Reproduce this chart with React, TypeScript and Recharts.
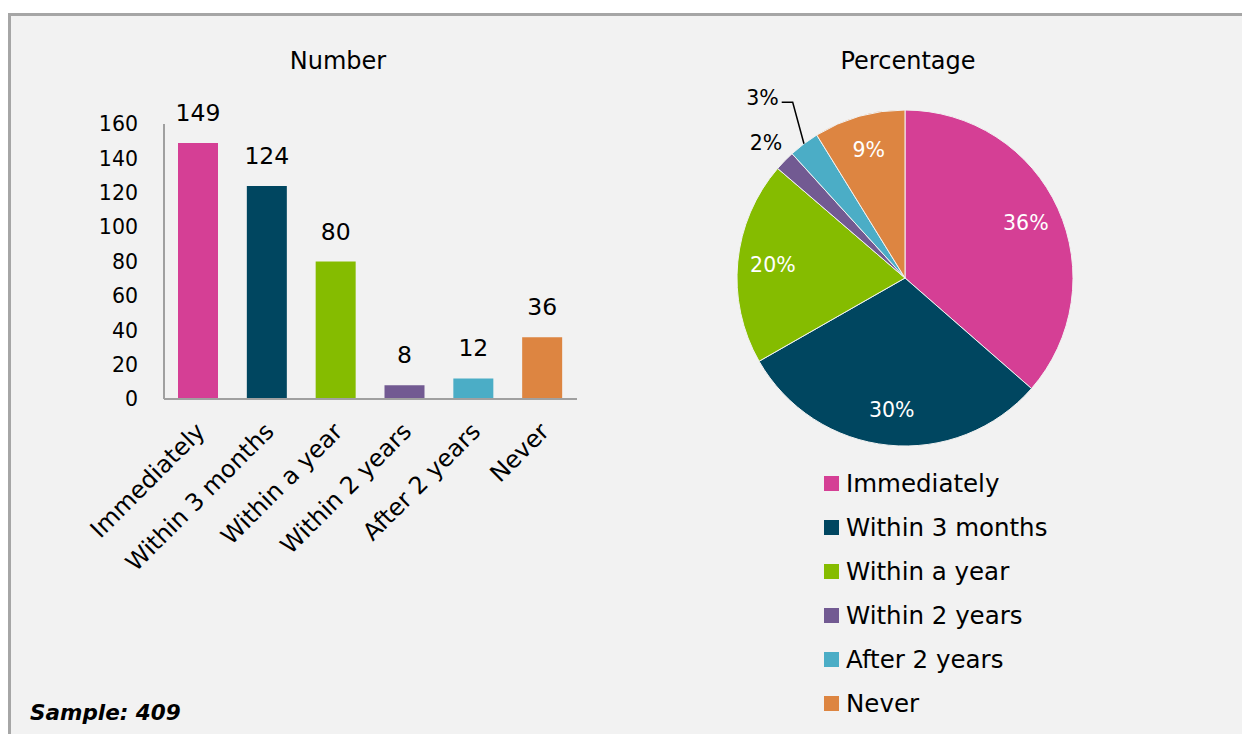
import React from "react";
import {
  BarChart,
  Bar,
  XAxis,
  YAxis,
  Cell,
  LabelList,
  PieChart,
  Pie,
  Legend,
} from "recharts";

const CATEGORIES = [
  "Immediately",
  "Within 3 months",
  "Within a year",
  "Within 2 years",
  "After 2 years",
  "Never",
];
const COUNTS = [149, 124, 80, 8, 12, 36];
const COLORS = ["#d53f95", "#004660", "#85bc00", "#725a92", "#4badc6", "#dd8541"];
const Y_TICKS = [0, 20, 40, 60, 80, 100, 120, 140, 160];
const SAMPLE_SIZE = 409;

const FONT = "'DejaVu Sans', Verdana, sans-serif";
const RADIAN = Math.PI / 180;

const data = CATEGORIES.map((name, i) => ({ name, count: COUNTS[i], color: COLORS[i] }));

function RotatedTick(props: any) {
  const { x, y, payload } = props;
  return (
    <g transform={`translate(${x + 8},${y + 26})`}>
      <text
        transform="rotate(-45)"
        textAnchor="end"
        fontSize={24}
        fontFamily={FONT}
        fill="#000"
      >
        {payload.value}
      </text>
    </g>
  );
}

function PieLabel(props: any) {
  const { cx, cy, midAngle, outerRadius, percent } = props;
  const pct = `${Math.round(percent * 100)}%`;
  const cos = Math.cos(-midAngle * RADIAN);
  const sin = Math.sin(-midAngle * RADIAN);

  if (percent >= 0.05) {
    const r = outerRadius * 0.79;
    return (
      <text
        x={cx + r * cos}
        y={cy + r * sin}
        fill="#fff"
        fontSize={20.5}
        fontFamily={FONT}
        textAnchor="middle"
        dominantBaseline="central"
      >
        {pct}
      </text>
    );
  }

  if (percent < 0.025) {
    const r = outerRadius + 26;
    return (
      <text
        x={cx + r * cos}
        y={cy + r * sin}
        fill="#000"
        fontSize={20.5}
        fontFamily={FONT}
        textAnchor="middle"
        dominantBaseline="central"
      >
        {pct}
      </text>
    );
  }

  // small slice with a leader line
  const sx = cx + outerRadius * cos;
  const sy = cy + outerRadius * sin;
  const ex = cx + (outerRadius + 52) * cos + 20;
  const ey = cy + (outerRadius + 52) * sin;
  return (
    <g>
      <polyline
        points={`${sx},${sy} ${ex},${ey} ${ex - 11},${ey}`}
        fill="none"
        stroke="#000"
        strokeWidth={1.5}
      />
      <text
        x={ex - 14}
        y={ey - 4}
        fill="#000"
        fontSize={20.5}
        fontFamily={FONT}
        textAnchor="end"
        dominantBaseline="central"
      >
        {pct}
      </text>
    </g>
  );
}

function LegendList() {
  return (
    <div style={{ fontFamily: FONT, fontSize: 24.5, color: "#000" }}>
      {CATEGORIES.map((c, i) => (
        <div key={c} style={{ display: "flex", alignItems: "center", height: 44 }}>
          <span
            style={{
              width: 15,
              height: 15,
              backgroundColor: COLORS[i],
              marginRight: 7,
              flexShrink: 0,
            }}
          />
          <span>{c}</span>
        </div>
      ))}
    </div>
  );
}

export default function App() {
  return (
    <div
      style={{
        position: "absolute",
        left: 0,
        top: 0,
        width: 1242,
        height: 734,
        background: "#fff",
        overflow: "hidden",
      }}
    >
      <div
        style={{
          position: "absolute",
          left: 8,
          top: 13,
          width: 1260,
          height: 760,
          background: "#f2f2f2",
          borderTop: "3px solid #a6a6a6",
          borderLeft: "3px solid #a6a6a6",
        }}
      />

      <div
        style={{
          position: "absolute",
          left: 238,
          top: 47,
          width: 200,
          textAlign: "center",
          fontFamily: FONT,
          fontSize: 24,
          color: "#000",
        }}
      >
        Number
      </div>

      <div style={{ position: "absolute", left: 0, top: 0 }}>
        <BarChart
          width={620}
          height={734}
          data={data}
          margin={{ top: 124, right: 43, left: 104, bottom: 185 }}
        >
          <YAxis
            width={60}
            domain={[0, 160]}
            ticks={Y_TICKS}
            interval={0}
            axisLine={{ stroke: "#a0a0a0", strokeWidth: 2 }}
            tickLine={false}
            tick={{ fontSize: 20.5, fontFamily: FONT, fill: "#000" }}
            tickMargin={20}
          />
          <XAxis
            dataKey="name"
            height={150}
            interval={0}
            axisLine={{ stroke: "#a0a0a0", strokeWidth: 2 }}
            tickLine={false}
            tick={<RotatedTick />}
          />
          <Bar dataKey="count" barSize={40} isAnimationActive={false}>
            {data.map((d) => (
              <Cell key={d.name} fill={d.color} />
            ))}
            <LabelList
              dataKey="count"
              position="top"
              offset={22}
              style={{ fontSize: 23.5, fontFamily: FONT, fill: "#000" }}
            />
          </Bar>
        </BarChart>
      </div>

      <div
        style={{
          position: "absolute",
          left: 808,
          top: 47,
          width: 200,
          textAlign: "center",
          fontFamily: FONT,
          fontSize: 24,
          color: "#000",
        }}
      >
        Percentage
      </div>

      <div style={{ position: "absolute", left: 620, top: 0 }}>
        <PieChart width={622} height={734}>
          <Pie
            data={data}
            dataKey="count"
            nameKey="name"
            cx={280}
            cy={273}
            outerRadius={168}
            startAngle={90}
            endAngle={-270}
            stroke="#f2f2f2"
            strokeWidth={1}
            label={PieLabel}
            labelLine={false}
            isAnimationActive={false}
          >
            {data.map((d) => (
              <Cell key={d.name} fill={d.color} />
            ))}
          </Pie>
          <Legend
            layout="vertical"
            content={() => <LegendList />}
            wrapperStyle={{ position: "absolute", left: 204, top: 461, width: 300 }}
          />
        </PieChart>
      </div>

      <div
        style={{
          position: "absolute",
          left: 30,
          top: 700,
          fontFamily: FONT,
          fontSize: 21.5,
          fontWeight: "bold",
          fontStyle: "italic",
          color: "#000",
        }}
      >
        Sample: {SAMPLE_SIZE}
      </div>
    </div>
  );
}
